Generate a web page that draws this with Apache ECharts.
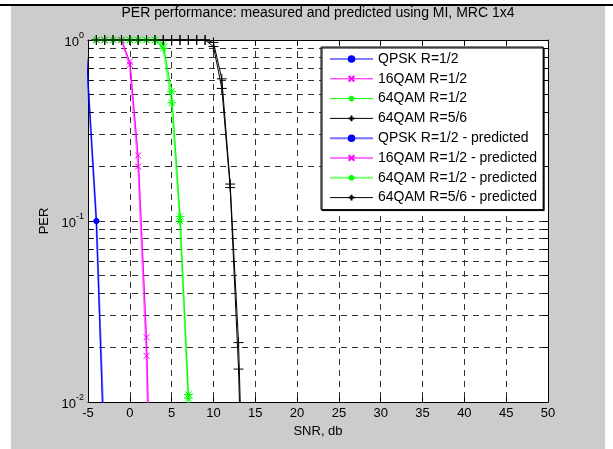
<!DOCTYPE html>
<html lang="en">
<head>
    <meta charset="UTF-8" />
    <title>PER performance</title>
    <script src="https://cdn.jsdelivr.net/npm/echarts@6/dist/echarts.min.js"></script>
    <style>body { margin: 0; background: #fff; }</style>
</head>
<body>
    <div id="chart" style="width: 613px; height: 449px"></div>
    <script>
        // SNR (dB) and PER
        var qpskSnr = [-5.2, -4, -3];
        var qpskPer = [0.85, 0.1, 0.004];
        var qpskPerPred = [0.8, 0.1, 0.005];

        var qam16Snr = [-4, -3, -2, -1, 0, 1, 2, 3];
        var qam16Per = [1, 1, 1, 1, 0.76, 0.23, 0.0228, 0.0003];
        var qam16PerPred = [1, 1, 1, 1, 0.73, 0.2, 0.018, 0.0002];

        var qam64Snr = [-4, -3, -2, -1, 0, 1, 2, 3, 4, 5, 6, 7, 8];
        var qam64Per = [1, 1, 1, 1, 1, 1, 1, 1, 0.95, 0.52, 0.106, 0.011, 0.0002];
        var qam64PerPred = [1, 1, 1, 1, 1, 1, 1, 1, 0.9, 0.45, 0.1, 0.0105, 0.0002];

        var qam56Snr = [-4, -3, -2, -1, 0, 1, 2, 3, 4, 5, 6, 7, 8, 9, 10, 11, 12, 13, 14];
        var qam56Per = [1, 1, 1, 1, 1, 1, 1, 1, 1, 1, 1, 1, 1, 1, 0.97, 0.61, 0.16, 0.0213, 0.0005];
        var qam56PerPred = [1, 1, 1, 1, 1, 1, 1, 1, 1, 1, 1, 1, 1, 1, 0.92, 0.54, 0.153, 0.0152, 0.0003];

        var legendNames = [
            "QPSK R=1/2", "16QAM R=1/2", "64QAM R=1/2", "64QAM R=5/6",
            "QPSK R=1/2 - predicted", "16QAM R=1/2 - predicted",
            "64QAM R=1/2 - predicted", "64QAM R=5/6 - predicted"
        ];

        // log grid: decades and the 2..9 lines between them
        var majorTicks = [0.01, 0.1, 1];
        var minorTicks = [0.02, 0.03, 0.04, 0.05, 0.06, 0.07, 0.08, 0.09,
                          0.2, 0.3, 0.4, 0.5, 0.6, 0.7, 0.8, 0.9];

        var font = "'Liberation Sans', Arial, sans-serif";

        var symX = "path://M0,0 L10,10 M10,0 L0,10";
        var symStar = "path://M5,0 L5,10 M0,5 L10,5 M1.5,1.5 L8.5,8.5 M8.5,1.5 L1.5,8.5";
        var symPlus = "path://M5,0 L5,10 M0,5 L10,5";

        function pairs(xs, ys) {
            var out = [];
            for (var i = 0; i < xs.length; i++) {
                out.push([xs[i], ys[i]]);
            }
            return out;
        }

        function mkSeries(name, xs, ys, color, symbol, size, pred) {
            var light = pred && color != "#000000";
            return {
                name: name,
                type: "line",
                data: pairs(xs, ys),
                symbol: symbol,
                symbolSize: size,
                showAllSymbol: true,
                clip: true,
                lineStyle: { color: color, width: light ? 2 : 1, opacity: light ? 0.55 : 1 },
                itemStyle: { color: color, borderColor: color, borderWidth: 1 },
                emphasis: { disabled: true }
            };
        }

        var mCharts = echarts.init(document.getElementById("chart"));

        var dashed = { color: "#333", width: 1, type: [6, 5] };
        var black = { color: "#000", width: 1 };

        var option = {
            animation: false,
            textStyle: { fontFamily: font },
            graphic: [
                { type: "rect", z: -10, silent: true, shape: { x: 11, y: 6, width: 594, height: 443 }, style: { fill: "#cccccc" } },
                { type: "rect", z: -10, silent: true, shape: { x: 0, y: 4, width: 613, height: 2 }, style: { fill: "#000" } }
            ],
            title: {
                text: "PER performance: measured and predicted using MI, MRC 1x4",
                left: 318,
                top: 6,
                padding: 0,
                textAlign: "center",
                textStyle: { fontFamily: font, fontSize: 14, fontWeight: "normal", color: "#000" }
            },
            grid: {
                left: 88, right: 65, top: 40, bottom: 47,
                show: true, backgroundColor: "#fff", borderWidth: 0
            },
            legend: {
                orient: "vertical",
                left: 321,
                top: 47,
                itemWidth: 43,
                itemHeight: 7,
                itemGap: 5.8,
                padding: [5, 6, 5, 8],
                backgroundColor: "#fff",
                borderColor: "#000",
                borderWidth: 1,
                shadowColor: "#000",
                shadowOffsetX: 1,
                shadowOffsetY: 1,
                shadowBlur: 0,
                selectedMode: false,
                lineStyle: { width: "inherit", opacity: "inherit" },
                textStyle: { fontFamily: font, fontSize: 14, color: "#000" },
                data: legendNames
            },
            xAxis: [
                {
                    type: "value", min: -5, max: 50, interval: 5, position: "bottom",
                    name: "SNR, db", nameLocation: "middle", nameGap: 22,
                    nameTextStyle: { fontFamily: font, fontSize: 13, color: "#000" },
                    axisLine: { onZero: false, lineStyle: black },
                    axisTick: { inside: true, length: 5, lineStyle: black },
                    axisLabel: { fontSize: 13, color: "#000", margin: 5 },
                    splitLine: { show: true, lineStyle: dashed }
                },
                {
                    type: "value", min: -5, max: 50, interval: 5, position: "top",
                    axisLine: { onZero: false, lineStyle: black },
                    axisTick: { inside: true, length: 5, lineStyle: black },
                    axisLabel: { show: false },
                    splitLine: { show: false }
                }
            ],
            yAxis: [
                {
                    type: "log", logBase: 10, min: 0.01, max: 1, position: "left",
                    name: "PER", nameLocation: "middle", nameGap: 37,
                    nameTextStyle: { fontFamily: font, fontSize: 13, color: "#000" },
                    axisLine: { onZero: false, lineStyle: black },
                    axisTick: { inside: true, length: 5, lineStyle: black },
                    axisLabel: {
                        margin: 4,
                        formatter: function (v) {
                            var e = Math.round(Math.log10(v));
                            return "{b|10}{s|" + e + "}";
                        },
                        rich: {
                            b: { fontFamily: font, fontSize: 13, color: "#000", lineHeight: 18, verticalAlign: "bottom" },
                            s: { fontFamily: font, fontSize: 9, color: "#000", lineHeight: 18, verticalAlign: "top" }
                        }
                    },
                    splitLine: { show: true, lineStyle: dashed }
                },
                {
                    // minor log grid, left side
                    type: "value", min: -2, max: 0, position: "left",
                    axisLine: { show: false, onZero: false },
                    axisLabel: { show: false },
                    axisTick: { show: true, inside: true, length: 5, lineStyle: black, customValues: minorTicks.map(Math.log10) },
                    splitLine: { show: true, lineStyle: dashed }
                },
                {
                    // right frame with all log ticks
                    type: "value", min: -2, max: 0, position: "right",
                    axisLine: { show: true, onZero: false, lineStyle: black },
                    axisLabel: { show: false },
                    axisTick: { show: true, inside: true, length: 5, lineStyle: black, customValues: majorTicks.concat(minorTicks).map(Math.log10) },
                    splitLine: { show: false }
                }
            ],
            series: [
                mkSeries(legendNames[0], qpskSnr, qpskPer, "#0000ff", "circle", 5, false),
                mkSeries(legendNames[1], qam16Snr, qam16Per, "#ff00ff", symX, 6, false),
                mkSeries(legendNames[2], qam64Snr, qam64Per, "#00ff00", symStar, 9, false),
                mkSeries(legendNames[3], qam56Snr, qam56Per, "#000000", symPlus, 10, false),
                mkSeries(legendNames[4], qpskSnr, qpskPerPred, "#0000ff", "circle", 5, true),
                mkSeries(legendNames[5], qam16Snr, qam16PerPred, "#ff00ff", symX, 6, true),
                mkSeries(legendNames[6], qam64Snr, qam64PerPred, "#00ff00", symStar, 9, true),
                mkSeries(legendNames[7], qam56Snr, qam56PerPred, "#000000", symPlus, 10, true)
            ]
        };
        mCharts.setOption(option);
    </script>
</body>
</html>
